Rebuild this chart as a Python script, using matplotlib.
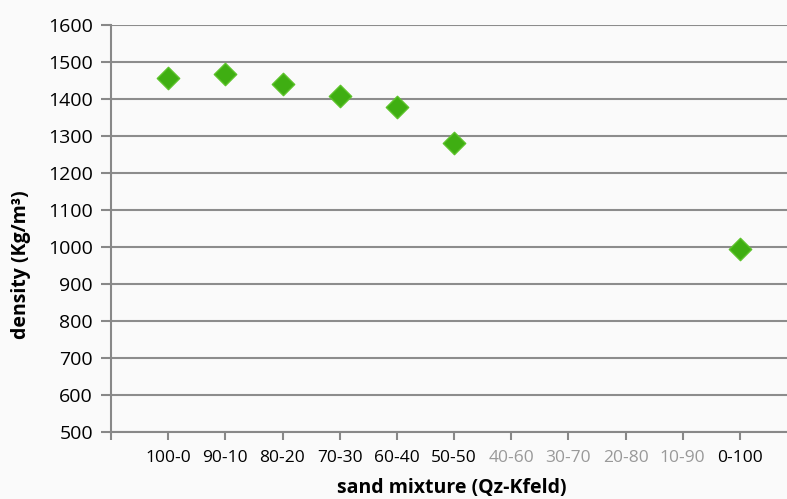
import numpy as np
import matplotlib.pyplot as plt

categories = ['100-0', '90-10', '80-20', '70-30', '60-40', '50-50',
              '40-60', '30-70', '20-80', '10-90', '0-100']
density = [1457, 1468, 1440, 1408, 1378, 1280, np.nan, np.nan, np.nan, np.nan, 995]
has_data = [True, True, True, True, True, True, False, False, False, False, True]

plt.rcParams['font.family'] = ['Open Sans', 'DejaVu Sans']

fig = plt.figure(figsize=(7.87, 4.99), dpi=100, facecolor='#fafafa')
ax = fig.add_axes([111 / 787, 1 - 432 / 499, 686 / 787, 407 / 499])
ax.set_facecolor('#fafafa')

x = np.arange(1, len(categories) + 1)
ax.scatter(x, density, marker='D', s=130, color='#3fae12', edgecolor='#5cc22a',
           linewidth=1, zorder=3)

ax.set_xlim(0, 12)
ax.set_ylim(500, 1600)
ax.set_yticks(range(500, 1601, 100))
ax.set_xticks(np.arange(0, 12))
ax.set_xticklabels([''] + categories)
ax.tick_params(axis='x', length=6, color='#888888', width=1.5, pad=7, labelsize=12.5)
ax.tick_params(axis='y', length=7, color='#888888', width=1.5, labelsize=14, pad=6)
for lbl, ok in zip(ax.get_xticklabels()[1:], has_data):
    lbl.set_color('black' if ok else '#999999')

ax.grid(axis='y', color='#8c8c8c', linewidth=1.5)
ax.set_axisbelow(True)
for s in ['top', 'right']:
    ax.spines[s].set_visible(False)
for s in ['left', 'bottom']:
    ax.spines[s].set_color('#888888')
    ax.spines[s].set_linewidth(1.5)

ax.set_ylabel('density (Kg/m³)', fontsize=14, fontweight='bold')
ax.yaxis.set_label_coords(-80 / 686, (432 - 265) / 407)
ax.set_xlabel('sand mixture (Qz-Kfeld)', fontsize=14, fontweight='bold')
ax.xaxis.set_label_coords((452 - 111) / 686, -46 / 407)

fig.savefig('out.png', dpi=100, facecolor=fig.get_facecolor())
